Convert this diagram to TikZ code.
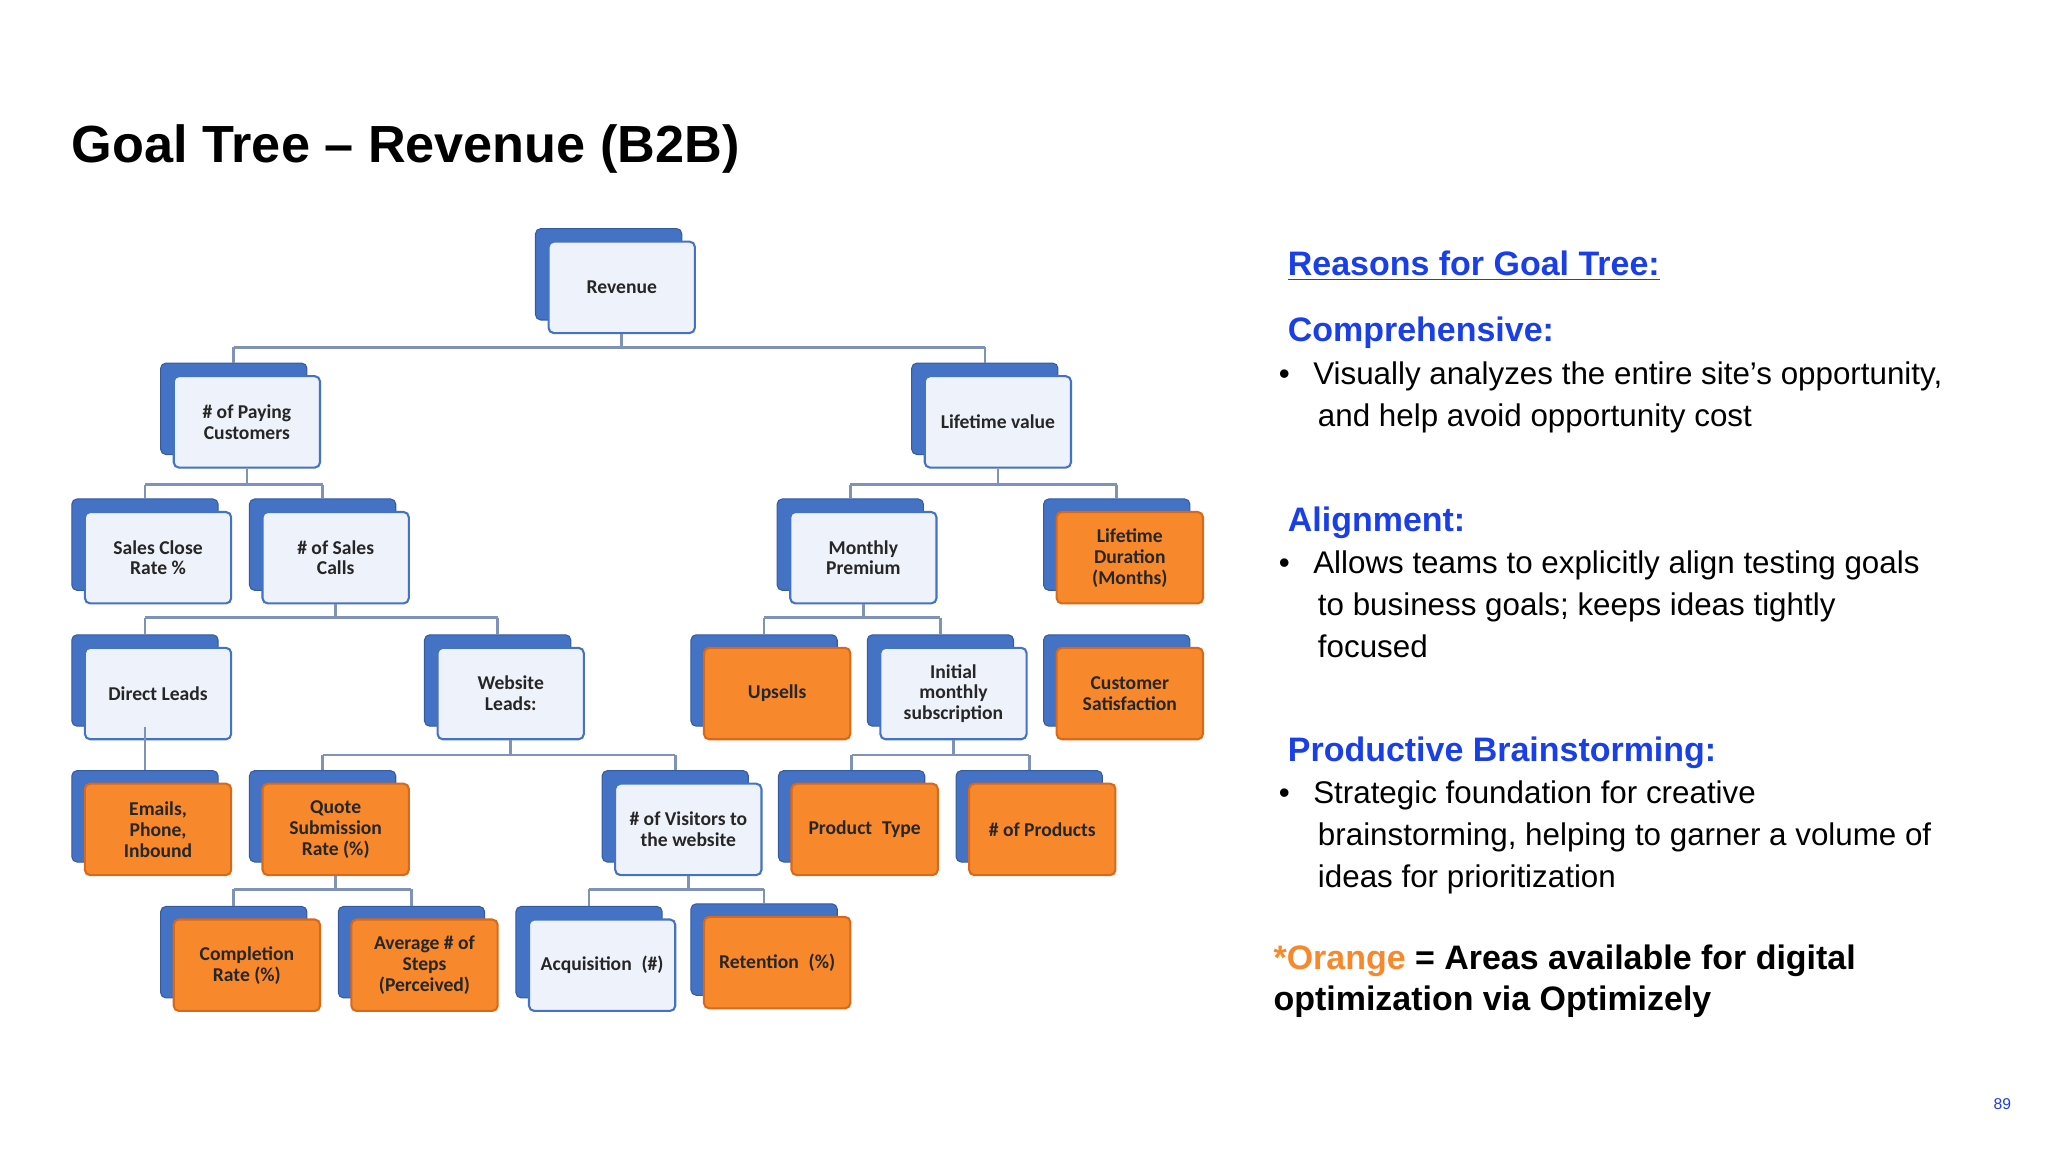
\documentclass[tikz,border=0pt]{standalone}
\usepackage{fontspec}
\setmainfont{Liberation Sans}
\newfontfamily\boxfont{Carlito}
\definecolor{bblue}{HTML}{4472C4}
\definecolor{fillw}{HTML}{EEF2FA}
\definecolor{oran}{HTML}{F7892C}
\definecolor{oranb}{HTML}{D8691A}
\definecolor{lnk}{HTML}{1A3EE8}
\definecolor{conn}{HTML}{7F93B8}
\begin{document}
\begin{tikzpicture}[x=0.5pt,y=-0.5pt,
  back/.style={draw=bblue!80!black,fill=bblue,minimum width=56pt,minimum height=35pt,rounded corners=2pt,line width=0.4pt},
  front/.style={draw=bblue,fill=fillw,minimum width=56pt,minimum height=35pt,rounded corners=2pt,line width=0.8pt,align=center,font=\boxfont\bfseries\fontsize{7.5}{8}\selectfont,text=black!85},
  orange/.style={front,draw=oranb,fill=oran},
  ln/.style={draw=conn,line width=1pt}]
\useasboundingbox (0,0) rectangle (1568,882);
\newcommand\gbox[5]{\node[back] (#1b) at (#2-10,#3-10) {};\node[#4] (#1) at (#2,#3) {#5};}
\node[anchor=west,font=\bfseries\fontsize{20}{24}\selectfont] (title) at (48,114) {Goal Tree -- Revenue (B2B)};
% boxes
\gbox{rev}{476}{220}{front}{Revenue}
\gbox{pay}{189}{323}{front}{\# of Paying\\Customers}
\gbox{ltv}{764}{323}{front}{Lifetime value}
\gbox{scr}{121}{427}{front}{Sales Close\\Rate \%}
\gbox{scl}{257}{427}{front}{\# of Sales\\Calls}
\gbox{mon}{661}{427}{front}{Monthly\\Premium}
\gbox{ldu}{865}{427}{orange}{Lifetime\\Duration\\(Months)}
\gbox{dir}{121}{531}{front}{Direct Leads}
\gbox{web}{391}{531}{front}{Website\\Leads:}
\gbox{ups}{595}{531}{orange}{Upsells}
\gbox{ini}{730}{531}{front}{Initial\\monthly\\subscription}
\gbox{csa}{865}{531}{orange}{Customer\\Satisfaction}
\gbox{ema}{121}{635}{orange}{Emails,\\Phone,\\Inbound}
\gbox{quo}{257}{635}{orange}{Quote\\Submission\\Rate (\%)}
\gbox{vis}{527}{635}{front}{\# of Visitors to\\the website}
\gbox{pty}{662}{635}{orange}{Product\enspace Type}
\gbox{npr}{798}{635}{orange}{\# of Products}
\gbox{com}{189}{739}{orange}{Completion\\Rate (\%)}
\gbox{avg}{325}{739}{orange}{Average \# of\\Steps\\(Perceived)}
\gbox{acq}{461}{739}{front}{Acquisition\enspace(\#)}
\gbox{ret}{595}{737}{orange}{Retention\enspace(\%)}
% connectors
\newcommand\tree[4]{\draw[ln] (#1.south) -- (#1.south |- 0,#2);
  \draw[ln] (#3b.north |- 0,#2) -- (#4b.north |- 0,#2);
  \draw[ln] (#3b.north |- 0,#2) -- (#3b.north);
  \draw[ln] (#4b.north |- 0,#2) -- (#4b.north);}
\tree{rev}{266}{pay}{ltv}
\tree{pay}{371}{scr}{scl}
\tree{ltv}{371}{mon}{ldu}
\tree{scl}{473}{dir}{web}
\tree{mon}{473}{ups}{ini}
\tree{web}{578}{quo}{vis}
\tree{ini}{578}{pty}{npr}
\tree{quo}{681}{com}{avg}
\tree{vis}{681}{acq}{ret}
\draw[ln] (dirb.south) -- (emab.north);
% right text
\begin{scope}[every node/.style={anchor=west}]
\node[text=lnk,font=\bfseries\fontsize{13}{15}\selectfont] (h0) at (979,204) {\underline{Reasons for Goal Tree:}};
\node[text=lnk,font=\bfseries\fontsize{13}{15}\selectfont] (h1) at (979,255) {Comprehensive:};
\node[anchor=north west,font=\fontsize{12}{16}\selectfont,align=left] (t1) at (972,270) {\textbullet\hspace{9pt}Visually analyzes the entire site’s opportunity,\\\hspace{15pt}and help avoid opportunity cost};
\node[text=lnk,font=\bfseries\fontsize{13}{15}\selectfont] (h2) at (979,400) {Alignment:};
\node[anchor=north west,font=\fontsize{12}{16}\selectfont,align=left] (t2) at (972,415) {\textbullet\hspace{9pt}Allows teams to explicitly align testing goals\\\hspace{15pt}to business goals; keeps ideas tightly\\\hspace{15pt}focused};
\node[text=lnk,font=\bfseries\fontsize{13}{15}\selectfont] (h3) at (979,576) {Productive Brainstorming:};
\node[anchor=north west,font=\fontsize{12}{16}\selectfont,align=left] (t3) at (972,591) {\textbullet\hspace{9pt}Strategic foundation for creative\\\hspace{15pt}brainstorming, helping to garner a volume of\\\hspace{15pt}ideas for prioritization};
\node[anchor=north west,font=\bfseries\fontsize{13}{16}\selectfont,align=left] (t4) at (968,716) {\textcolor{oran}{*Orange} = Areas available for digital\\optimization via Optimizely};
\end{scope}
\node[text=lnk,font=\fontsize{6}{7}\selectfont] (pg) at (1533,845) {89};
\end{tikzpicture}
\end{document}
